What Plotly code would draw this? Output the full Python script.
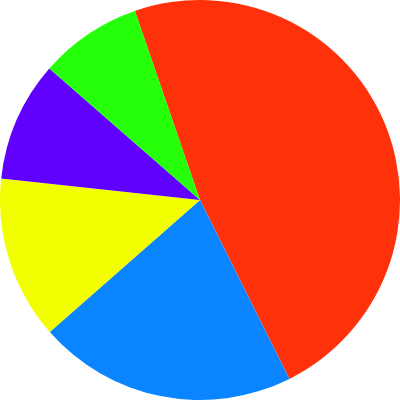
import plotly.graph_objects as go

labels = ["A", "B", "C", "D", "E"]
values = [47.9, 20.9, 13.2, 9.7, 8.3]
colors = ["#FF310A", "#0A85FF", "#F2FF00", "#6000FF", "#25FF0A"]

fig = go.Figure(
    go.Pie(
        labels=labels,
        values=values,
        sort=False,
        direction="clockwise",
        rotation=-19,
        marker={"colors": colors, "line": {"width": 0}},
        textinfo="none",
        hoverinfo="label+value",
        showlegend=False,
    )
)

fig.update_layout(
    width=400,
    height=400,
    margin={"l": 0, "r": 0, "t": 0, "b": 0},
    paper_bgcolor="white",
)

# page body has an 8px margin by default, drop it so the pie fills the window
fig.write_html(
    "out.html",
    config={"displayModeBar": False},
    post_script="document.body.style.margin='0';document.body.style.overflow='hidden';",
)
